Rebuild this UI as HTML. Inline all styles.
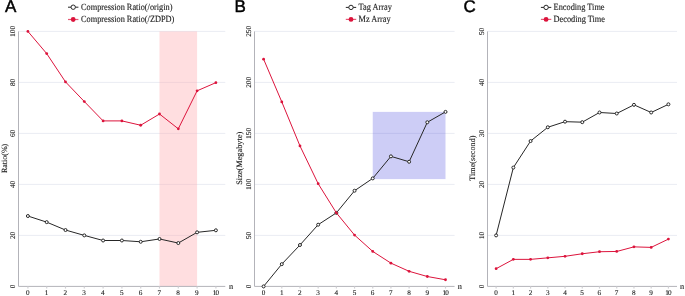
<!DOCTYPE html><html><head><meta charset="utf-8"><style>html,body{margin:0;padding:0;background:#fff;overflow:hidden}svg{display:block;will-change:transform}text{font-family:"Liberation Serif",serif;fill:#222;stroke:#222;stroke-width:0.12px;text-rendering:geometricPrecision}</style></head><body>
<svg width="685" height="296" viewBox="0 0 685 296">
<line x1="18.5" y1="235.4" x2="225.3" y2="235.4" stroke="#eaecf3" stroke-width="1"/>
<line x1="18.5" y1="184.4" x2="225.3" y2="184.4" stroke="#eaecf3" stroke-width="1"/>
<line x1="18.5" y1="133.4" x2="225.3" y2="133.4" stroke="#eaecf3" stroke-width="1"/>
<line x1="18.5" y1="82.4" x2="225.3" y2="82.4" stroke="#eaecf3" stroke-width="1"/>
<line x1="18.5" y1="31.4" x2="225.3" y2="31.4" stroke="#eaecf3" stroke-width="1"/>
<rect x="159.5" y="31.4" width="37.6" height="255" fill="rgba(255,173,177,0.4)"/>
<line x1="18.5" y1="31.4" x2="18.5" y2="286.4" stroke="#b3b3b9" stroke-width="1"/>
<line x1="18.5" y1="286.4" x2="225.3" y2="286.4" stroke="#b3b3b9" stroke-width="1"/>
<line x1="27.9" y1="286.4" x2="27.9" y2="288.6" stroke="#d0d0d4" stroke-width="1.2"/>
<line x1="46.7" y1="286.4" x2="46.7" y2="288.6" stroke="#d0d0d4" stroke-width="1.2"/>
<line x1="65.5" y1="286.4" x2="65.5" y2="288.6" stroke="#d0d0d4" stroke-width="1.2"/>
<line x1="84.3" y1="286.4" x2="84.3" y2="288.6" stroke="#d0d0d4" stroke-width="1.2"/>
<line x1="103.1" y1="286.4" x2="103.1" y2="288.6" stroke="#d0d0d4" stroke-width="1.2"/>
<line x1="121.9" y1="286.4" x2="121.9" y2="288.6" stroke="#d0d0d4" stroke-width="1.2"/>
<line x1="140.7" y1="286.4" x2="140.7" y2="288.6" stroke="#d0d0d4" stroke-width="1.2"/>
<line x1="159.5" y1="286.4" x2="159.5" y2="288.6" stroke="#d0d0d4" stroke-width="1.2"/>
<line x1="178.3" y1="286.4" x2="178.3" y2="288.6" stroke="#d0d0d4" stroke-width="1.2"/>
<line x1="197.1" y1="286.4" x2="197.1" y2="288.6" stroke="#d0d0d4" stroke-width="1.2"/>
<line x1="215.9" y1="286.4" x2="215.9" y2="288.6" stroke="#d0d0d4" stroke-width="1.2"/>
<text x="27.7" y="294.9" font-size="7.2" text-anchor="middle">0</text>
<text x="46.5" y="294.9" font-size="7.2" text-anchor="middle">1</text>
<text x="65.3" y="294.9" font-size="7.2" text-anchor="middle">2</text>
<text x="84.1" y="294.9" font-size="7.2" text-anchor="middle">3</text>
<text x="102.9" y="294.9" font-size="7.2" text-anchor="middle">4</text>
<text x="121.7" y="294.9" font-size="7.2" text-anchor="middle">5</text>
<text x="140.5" y="294.9" font-size="7.2" text-anchor="middle">6</text>
<text x="159.3" y="294.9" font-size="7.2" text-anchor="middle">7</text>
<text x="178.1" y="294.9" font-size="7.2" text-anchor="middle">8</text>
<text x="196.9" y="294.9" font-size="7.2" text-anchor="middle">9</text>
<text x="215.9" y="294.9" font-size="7.2" text-anchor="middle" textLength="6.3" lengthAdjust="spacing">10</text>
<text x="231" y="289" font-size="8.3" text-anchor="middle">n</text>
<text transform="translate(12.8,286.4) rotate(-90)" x="0" y="2.45" font-size="7.2" text-anchor="middle">0</text>
<text transform="translate(12.8,235.4) rotate(-90)" x="0" y="2.45" font-size="7.2" text-anchor="middle">20</text>
<text transform="translate(12.8,184.4) rotate(-90)" x="0" y="2.45" font-size="7.2" text-anchor="middle">40</text>
<text transform="translate(12.8,133.4) rotate(-90)" x="0" y="2.45" font-size="7.2" text-anchor="middle">60</text>
<text transform="translate(12.8,82.4) rotate(-90)" x="0" y="2.45" font-size="7.2" text-anchor="middle">80</text>
<text transform="translate(12.8,31.4) rotate(-90)" x="0" y="2.45" font-size="7.2" text-anchor="middle">100</text>
<text transform="translate(7.1,158.45) rotate(-90)" x="0" y="0" font-size="8" text-anchor="middle">Ratio(%)</text>
<polyline points="27.9,216.02 46.7,222.14 65.5,230.04 84.3,235.4 103.1,240.5 121.9,240.5 140.7,241.77 159.5,238.97 178.3,243.05 197.1,232.34 215.9,230.3" fill="none" stroke="#262626" stroke-width="1" stroke-linejoin="round"/>
<circle cx="27.9" cy="216.02" r="1.5" fill="#fff" stroke="#262626" stroke-width="1"/>
<circle cx="46.7" cy="222.14" r="1.5" fill="#fff" stroke="#262626" stroke-width="1"/>
<circle cx="65.5" cy="230.04" r="1.5" fill="#fff" stroke="#262626" stroke-width="1"/>
<circle cx="84.3" cy="235.4" r="1.5" fill="#fff" stroke="#262626" stroke-width="1"/>
<circle cx="103.1" cy="240.5" r="1.5" fill="#fff" stroke="#262626" stroke-width="1"/>
<circle cx="121.9" cy="240.5" r="1.5" fill="#fff" stroke="#262626" stroke-width="1"/>
<circle cx="140.7" cy="241.77" r="1.5" fill="#fff" stroke="#262626" stroke-width="1"/>
<circle cx="159.5" cy="238.97" r="1.5" fill="#fff" stroke="#262626" stroke-width="1"/>
<circle cx="178.3" cy="243.05" r="1.5" fill="#fff" stroke="#262626" stroke-width="1"/>
<circle cx="197.1" cy="232.34" r="1.5" fill="#fff" stroke="#262626" stroke-width="1"/>
<circle cx="215.9" cy="230.3" r="1.5" fill="#fff" stroke="#262626" stroke-width="1"/>
<polyline points="27.9,31.4 46.7,53.59 65.5,81.89 84.3,101.53 103.1,120.9 121.9,120.9 140.7,125.24 159.5,114.02 178.3,128.81 197.1,90.81 215.9,82.65" fill="none" stroke="#dc143c" stroke-width="1" stroke-linejoin="round"/>
<circle cx="27.9" cy="31.4" r="1.4" fill="#dc143c"/>
<circle cx="46.7" cy="53.59" r="1.4" fill="#dc143c"/>
<circle cx="65.5" cy="81.89" r="1.4" fill="#dc143c"/>
<circle cx="84.3" cy="101.53" r="1.4" fill="#dc143c"/>
<circle cx="103.1" cy="120.9" r="1.4" fill="#dc143c"/>
<circle cx="121.9" cy="120.9" r="1.4" fill="#dc143c"/>
<circle cx="140.7" cy="125.24" r="1.4" fill="#dc143c"/>
<circle cx="159.5" cy="114.02" r="1.4" fill="#dc143c"/>
<circle cx="178.3" cy="128.81" r="1.4" fill="#dc143c"/>
<circle cx="197.1" cy="90.81" r="1.4" fill="#dc143c"/>
<circle cx="215.9" cy="82.65" r="1.4" fill="#dc143c"/>
<line x1="68" y1="7.2" x2="78.4" y2="7.2" stroke="#262626" stroke-width="1" stroke-opacity="1"/>
<circle cx="73.2" cy="7.2" r="2.2" fill="#fff" stroke="#262626" stroke-width="1"/>
<text transform="translate(81,9.7) scale(1,1.14)" font-size="8.3">Compression Ratio(/origin)</text>
<line x1="68" y1="19.5" x2="78.4" y2="19.5" stroke="#dc143c" stroke-width="1.2" stroke-opacity="0.7"/>
<circle cx="73.2" cy="19.5" r="2.4" fill="#dc143c"/>
<text transform="translate(81,22.35) scale(1,1.14)" font-size="8.3">Compression Ratio(/ZDPD)</text>
<text x="5" y="12.3" font-size="17" style="font-family:'Liberation Sans',sans-serif;fill:#000;stroke:#000;stroke-width:0.45">A</text>
<line x1="254.5" y1="235.4" x2="454.59" y2="235.4" stroke="#eaecf3" stroke-width="1"/>
<line x1="254.5" y1="184.4" x2="454.59" y2="184.4" stroke="#eaecf3" stroke-width="1"/>
<line x1="254.5" y1="133.4" x2="454.59" y2="133.4" stroke="#eaecf3" stroke-width="1"/>
<line x1="254.5" y1="82.4" x2="454.59" y2="82.4" stroke="#eaecf3" stroke-width="1"/>
<line x1="254.5" y1="31.4" x2="454.59" y2="31.4" stroke="#eaecf3" stroke-width="1"/>
<rect x="372.74" y="111.88" width="72.76" height="67.22" fill="rgba(60,60,220,0.26)"/>
<line x1="254.5" y1="31.4" x2="254.5" y2="286.4" stroke="#b3b3b9" stroke-width="1"/>
<line x1="254.5" y1="286.4" x2="454.59" y2="286.4" stroke="#b3b3b9" stroke-width="1"/>
<line x1="263.6" y1="286.4" x2="263.6" y2="288.6" stroke="#d0d0d4" stroke-width="1.2"/>
<line x1="281.79" y1="286.4" x2="281.79" y2="288.6" stroke="#d0d0d4" stroke-width="1.2"/>
<line x1="299.98" y1="286.4" x2="299.98" y2="288.6" stroke="#d0d0d4" stroke-width="1.2"/>
<line x1="318.17" y1="286.4" x2="318.17" y2="288.6" stroke="#d0d0d4" stroke-width="1.2"/>
<line x1="336.36" y1="286.4" x2="336.36" y2="288.6" stroke="#d0d0d4" stroke-width="1.2"/>
<line x1="354.55" y1="286.4" x2="354.55" y2="288.6" stroke="#d0d0d4" stroke-width="1.2"/>
<line x1="372.74" y1="286.4" x2="372.74" y2="288.6" stroke="#d0d0d4" stroke-width="1.2"/>
<line x1="390.93" y1="286.4" x2="390.93" y2="288.6" stroke="#d0d0d4" stroke-width="1.2"/>
<line x1="409.12" y1="286.4" x2="409.12" y2="288.6" stroke="#d0d0d4" stroke-width="1.2"/>
<line x1="427.31" y1="286.4" x2="427.31" y2="288.6" stroke="#d0d0d4" stroke-width="1.2"/>
<line x1="445.5" y1="286.4" x2="445.5" y2="288.6" stroke="#d0d0d4" stroke-width="1.2"/>
<text x="263.5" y="294.9" font-size="7.2" text-anchor="middle">0</text>
<text x="281.69" y="294.9" font-size="7.2" text-anchor="middle">1</text>
<text x="299.88" y="294.9" font-size="7.2" text-anchor="middle">2</text>
<text x="318.06" y="294.9" font-size="7.2" text-anchor="middle">3</text>
<text x="336.25" y="294.9" font-size="7.2" text-anchor="middle">4</text>
<text x="354.44" y="294.9" font-size="7.2" text-anchor="middle">5</text>
<text x="372.63" y="294.9" font-size="7.2" text-anchor="middle">6</text>
<text x="390.82" y="294.9" font-size="7.2" text-anchor="middle">7</text>
<text x="409.01" y="294.9" font-size="7.2" text-anchor="middle">8</text>
<text x="427.2" y="294.9" font-size="7.2" text-anchor="middle">9</text>
<text x="445.59" y="294.9" font-size="7.2" text-anchor="middle" textLength="6.3" lengthAdjust="spacing">10</text>
<text x="459.9" y="289" font-size="8.3" text-anchor="middle">n</text>
<text transform="translate(248.5,286.4) rotate(-90)" x="0" y="2.45" font-size="7.2" text-anchor="middle">0</text>
<text transform="translate(248.5,235.4) rotate(-90)" x="0" y="2.45" font-size="7.2" text-anchor="middle">50</text>
<text transform="translate(248.5,184.4) rotate(-90)" x="0" y="2.45" font-size="7.2" text-anchor="middle">100</text>
<text transform="translate(248.5,133.4) rotate(-90)" x="0" y="2.45" font-size="7.2" text-anchor="middle">150</text>
<text transform="translate(248.5,82.4) rotate(-90)" x="0" y="2.45" font-size="7.2" text-anchor="middle">200</text>
<text transform="translate(248.5,31.4) rotate(-90)" x="0" y="2.45" font-size="7.2" text-anchor="middle">250</text>
<text transform="translate(241.9,158.25) rotate(-90)" x="0" y="0" font-size="8.3" text-anchor="middle">Size(Megabyte)</text>
<polyline points="263.6,286.4 281.79,264.16 299.98,244.99 318.17,224.69 336.36,212.86 354.55,190.72 372.74,178.38 390.93,156.35 409.12,161.76 427.31,122.28 445.5,111.88" fill="none" stroke="#262626" stroke-width="1" stroke-linejoin="round"/>
<circle cx="263.6" cy="286.4" r="1.5" fill="#fff" stroke="#262626" stroke-width="1"/>
<circle cx="281.79" cy="264.16" r="1.5" fill="#fff" stroke="#262626" stroke-width="1"/>
<circle cx="299.98" cy="244.99" r="1.5" fill="#fff" stroke="#262626" stroke-width="1"/>
<circle cx="318.17" cy="224.69" r="1.5" fill="#fff" stroke="#262626" stroke-width="1"/>
<circle cx="336.36" cy="212.86" r="1.5" fill="#fff" stroke="#262626" stroke-width="1"/>
<circle cx="354.55" cy="190.72" r="1.5" fill="#fff" stroke="#262626" stroke-width="1"/>
<circle cx="372.74" cy="178.38" r="1.5" fill="#fff" stroke="#262626" stroke-width="1"/>
<circle cx="390.93" cy="156.35" r="1.5" fill="#fff" stroke="#262626" stroke-width="1"/>
<circle cx="409.12" cy="161.76" r="1.5" fill="#fff" stroke="#262626" stroke-width="1"/>
<circle cx="427.31" cy="122.28" r="1.5" fill="#fff" stroke="#262626" stroke-width="1"/>
<circle cx="445.5" cy="111.88" r="1.5" fill="#fff" stroke="#262626" stroke-width="1"/>
<polyline points="263.6,59.14 281.79,101.88 299.98,145.95 318.17,183.69 336.36,212.86 354.55,235.09 372.74,251.41 390.93,263.14 409.12,271.3 427.31,276.51 445.5,279.77" fill="none" stroke="#dc143c" stroke-width="1" stroke-linejoin="round"/>
<circle cx="263.6" cy="59.14" r="1.4" fill="#dc143c"/>
<circle cx="281.79" cy="101.88" r="1.4" fill="#dc143c"/>
<circle cx="299.98" cy="145.95" r="1.4" fill="#dc143c"/>
<circle cx="318.17" cy="183.69" r="1.4" fill="#dc143c"/>
<circle cx="336.36" cy="212.86" r="1.4" fill="#dc143c"/>
<circle cx="354.55" cy="235.09" r="1.4" fill="#dc143c"/>
<circle cx="372.74" cy="251.41" r="1.4" fill="#dc143c"/>
<circle cx="390.93" cy="263.14" r="1.4" fill="#dc143c"/>
<circle cx="409.12" cy="271.3" r="1.4" fill="#dc143c"/>
<circle cx="427.31" cy="276.51" r="1.4" fill="#dc143c"/>
<circle cx="445.5" cy="279.77" r="1.4" fill="#dc143c"/>
<line x1="345.8" y1="7.4" x2="356.2" y2="7.4" stroke="#262626" stroke-width="1" stroke-opacity="1"/>
<circle cx="351" cy="7.4" r="2.2" fill="#fff" stroke="#262626" stroke-width="1"/>
<text transform="translate(358.6,9.9) scale(1,1.14)" font-size="8.3">Tag Array</text>
<line x1="345.8" y1="19.4" x2="356.2" y2="19.4" stroke="#dc143c" stroke-width="1.2" stroke-opacity="0.7"/>
<circle cx="351" cy="19.4" r="2.4" fill="#dc143c"/>
<text transform="translate(358.6,22.25) scale(1,1.14)" font-size="8.3">Mz Array</text>
<text x="234.4" y="12.3" font-size="17" style="font-family:'Liberation Sans',sans-serif;fill:#000;stroke:#000;stroke-width:0.45">B</text>
<line x1="487.5" y1="235.4" x2="677.03" y2="235.4" stroke="#eaecf3" stroke-width="1"/>
<line x1="487.5" y1="184.4" x2="677.03" y2="184.4" stroke="#eaecf3" stroke-width="1"/>
<line x1="487.5" y1="133.4" x2="677.03" y2="133.4" stroke="#eaecf3" stroke-width="1"/>
<line x1="487.5" y1="82.4" x2="677.03" y2="82.4" stroke="#eaecf3" stroke-width="1"/>
<line x1="487.5" y1="31.4" x2="677.03" y2="31.4" stroke="#eaecf3" stroke-width="1"/>
<line x1="487.5" y1="31.4" x2="487.5" y2="286.4" stroke="#b3b3b9" stroke-width="1"/>
<line x1="487.5" y1="286.4" x2="677.03" y2="286.4" stroke="#b3b3b9" stroke-width="1"/>
<line x1="496.12" y1="286.4" x2="496.12" y2="288.6" stroke="#d0d0d4" stroke-width="1.2"/>
<line x1="513.35" y1="286.4" x2="513.35" y2="288.6" stroke="#d0d0d4" stroke-width="1.2"/>
<line x1="530.58" y1="286.4" x2="530.58" y2="288.6" stroke="#d0d0d4" stroke-width="1.2"/>
<line x1="547.8" y1="286.4" x2="547.8" y2="288.6" stroke="#d0d0d4" stroke-width="1.2"/>
<line x1="565.03" y1="286.4" x2="565.03" y2="288.6" stroke="#d0d0d4" stroke-width="1.2"/>
<line x1="582.26" y1="286.4" x2="582.26" y2="288.6" stroke="#d0d0d4" stroke-width="1.2"/>
<line x1="599.5" y1="286.4" x2="599.5" y2="288.6" stroke="#d0d0d4" stroke-width="1.2"/>
<line x1="616.73" y1="286.4" x2="616.73" y2="288.6" stroke="#d0d0d4" stroke-width="1.2"/>
<line x1="633.96" y1="286.4" x2="633.96" y2="288.6" stroke="#d0d0d4" stroke-width="1.2"/>
<line x1="651.18" y1="286.4" x2="651.18" y2="288.6" stroke="#d0d0d4" stroke-width="1.2"/>
<line x1="668.41" y1="286.4" x2="668.41" y2="288.6" stroke="#d0d0d4" stroke-width="1.2"/>
<text x="496.01" y="294.9" font-size="7.2" text-anchor="middle">0</text>
<text x="513.25" y="294.9" font-size="7.2" text-anchor="middle">1</text>
<text x="530.48" y="294.9" font-size="7.2" text-anchor="middle">2</text>
<text x="547.7" y="294.9" font-size="7.2" text-anchor="middle">3</text>
<text x="564.93" y="294.9" font-size="7.2" text-anchor="middle">4</text>
<text x="582.16" y="294.9" font-size="7.2" text-anchor="middle">5</text>
<text x="599.39" y="294.9" font-size="7.2" text-anchor="middle">6</text>
<text x="616.62" y="294.9" font-size="7.2" text-anchor="middle">7</text>
<text x="633.86" y="294.9" font-size="7.2" text-anchor="middle">8</text>
<text x="651.08" y="294.9" font-size="7.2" text-anchor="middle">9</text>
<text x="668.51" y="294.9" font-size="7.2" text-anchor="middle" textLength="6.3" lengthAdjust="spacing">10</text>
<text x="682" y="289" font-size="8.3" text-anchor="middle">n</text>
<text transform="translate(481.6,286.4) rotate(-90)" x="0" y="2.45" font-size="7.2" text-anchor="middle">0</text>
<text transform="translate(481.6,235.4) rotate(-90)" x="0" y="2.45" font-size="7.2" text-anchor="middle">10</text>
<text transform="translate(481.6,184.4) rotate(-90)" x="0" y="2.45" font-size="7.2" text-anchor="middle">20</text>
<text transform="translate(481.6,133.4) rotate(-90)" x="0" y="2.45" font-size="7.2" text-anchor="middle">30</text>
<text transform="translate(481.6,82.4) rotate(-90)" x="0" y="2.45" font-size="7.2" text-anchor="middle">40</text>
<text transform="translate(481.6,31.4) rotate(-90)" x="0" y="2.45" font-size="7.2" text-anchor="middle">50</text>
<text transform="translate(474.5,158.1) rotate(-90)" x="0" y="0" font-size="8.2" text-anchor="middle">Time(second)</text>
<polyline points="496.12,235.4 513.35,167.57 530.58,141.05 547.8,127.28 565.03,121.67 582.26,122.18 599.5,112.49 616.73,113.51 633.96,104.84 651.18,112.49 668.41,104.33" fill="none" stroke="#262626" stroke-width="1" stroke-linejoin="round"/>
<circle cx="496.12" cy="235.4" r="1.5" fill="#fff" stroke="#262626" stroke-width="1"/>
<circle cx="513.35" cy="167.57" r="1.5" fill="#fff" stroke="#262626" stroke-width="1"/>
<circle cx="530.58" cy="141.05" r="1.5" fill="#fff" stroke="#262626" stroke-width="1"/>
<circle cx="547.8" cy="127.28" r="1.5" fill="#fff" stroke="#262626" stroke-width="1"/>
<circle cx="565.03" cy="121.67" r="1.5" fill="#fff" stroke="#262626" stroke-width="1"/>
<circle cx="582.26" cy="122.18" r="1.5" fill="#fff" stroke="#262626" stroke-width="1"/>
<circle cx="599.5" cy="112.49" r="1.5" fill="#fff" stroke="#262626" stroke-width="1"/>
<circle cx="616.73" cy="113.51" r="1.5" fill="#fff" stroke="#262626" stroke-width="1"/>
<circle cx="633.96" cy="104.84" r="1.5" fill="#fff" stroke="#262626" stroke-width="1"/>
<circle cx="651.18" cy="112.49" r="1.5" fill="#fff" stroke="#262626" stroke-width="1"/>
<circle cx="668.41" cy="104.33" r="1.5" fill="#fff" stroke="#262626" stroke-width="1"/>
<polyline points="496.12,268.7 513.35,259.37 530.58,259.37 547.8,257.84 565.03,256.31 582.26,253.76 599.5,251.72 616.73,251.46 633.96,246.87 651.18,247.38 668.41,239.12" fill="none" stroke="#dc143c" stroke-width="1" stroke-linejoin="round"/>
<circle cx="496.12" cy="268.7" r="1.4" fill="#dc143c"/>
<circle cx="513.35" cy="259.37" r="1.4" fill="#dc143c"/>
<circle cx="530.58" cy="259.37" r="1.4" fill="#dc143c"/>
<circle cx="547.8" cy="257.84" r="1.4" fill="#dc143c"/>
<circle cx="565.03" cy="256.31" r="1.4" fill="#dc143c"/>
<circle cx="582.26" cy="253.76" r="1.4" fill="#dc143c"/>
<circle cx="599.5" cy="251.72" r="1.4" fill="#dc143c"/>
<circle cx="616.73" cy="251.46" r="1.4" fill="#dc143c"/>
<circle cx="633.96" cy="246.87" r="1.4" fill="#dc143c"/>
<circle cx="651.18" cy="247.38" r="1.4" fill="#dc143c"/>
<circle cx="668.41" cy="239.12" r="1.4" fill="#dc143c"/>
<line x1="540.9" y1="7.4" x2="551.3" y2="7.4" stroke="#262626" stroke-width="1" stroke-opacity="1"/>
<circle cx="546.1" cy="7.4" r="2.2" fill="#fff" stroke="#262626" stroke-width="1"/>
<text transform="translate(553.6,9.9) scale(1,1.14)" font-size="8.3">Encoding Time</text>
<line x1="540.9" y1="19.4" x2="551.3" y2="19.4" stroke="#dc143c" stroke-width="1.2" stroke-opacity="0.7"/>
<circle cx="546.1" cy="19.4" r="2.4" fill="#dc143c"/>
<text transform="translate(553.6,22.25) scale(1,1.14)" font-size="8.3">Decoding Time</text>
<text x="463.4" y="12.3" font-size="17" style="font-family:'Liberation Sans',sans-serif;fill:#000;stroke:#000;stroke-width:0.45">C</text>
</svg></body></html>
